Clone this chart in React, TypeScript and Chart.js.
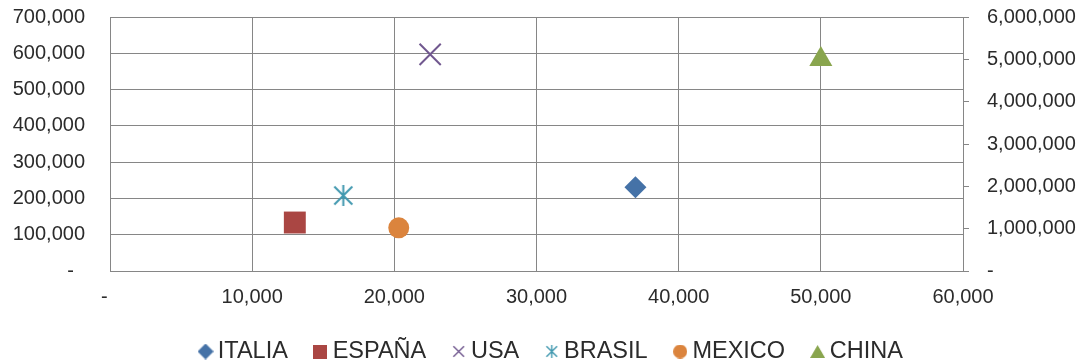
import React, { useEffect, useRef } from 'react';
import { Chart, registerables } from 'chart.js';

Chart.register(...registerables);

// ---- data ----
const countries = ['ITALIA', 'ESPAÑA', 'USA', 'BRASIL', 'MEXICO', 'CHINA'];
const xValues = [36960, 13000, 22520, 16410, 20310, 50000];
const yValues = [230600, 133600, 597000, 208000, 119000, 5000000];
const axisOf = ['y', 'y', 'y', 'y', 'y', 'y2'];

const xTickLabels = ['-  ', '10,000', '20,000', '30,000', '40,000', '50,000', '60,000'];
const yTickLabels = ['-  ', '100,000', '200,000', '300,000', '400,000', '500,000', '600,000', '700,000'];
const y2TickLabels = ['-', '1,000,000', '2,000,000', '3,000,000', '4,000,000', '5,000,000', '6,000,000'];

// ---- styles ----
const colors = ['#4572A7', '#AA4643', '#71588F', '#4198AF', '#DB843D', '#89A54E'];
const markerKinds = ['diamond', 'square', 'x', 'asterisk', 'circle', 'triangle'];
const legendSizes = [16, 14, 13, 13, 14, 15];
const GRID = '#868686';
const TEXT = '#2b2b2b';
const FONT = '"Liberation Sans", Arial, sans-serif';

function makeMarker(kind: string, size: number, color: string, lw: number): HTMLCanvasElement {
  const c = document.createElement('canvas');
  c.width = size;
  c.height = size;
  const g = c.getContext('2d') as CanvasRenderingContext2D;
  const m = size / 2;
  g.fillStyle = color;
  g.strokeStyle = color;
  g.lineWidth = lw;
  const p = lw / 2 + 0.5;
  switch (kind) {
    case 'diamond':
      g.beginPath();
      g.moveTo(m, 0);
      g.lineTo(size, m);
      g.lineTo(m, size);
      g.lineTo(0, m);
      g.closePath();
      g.fill();
      break;
    case 'square':
      g.fillRect(0, 0, size, size);
      break;
    case 'x':
      g.beginPath();
      g.moveTo(p, p);
      g.lineTo(size - p, size - p);
      g.moveTo(size - p, p);
      g.lineTo(p, size - p);
      g.stroke();
      break;
    case 'asterisk':
      g.beginPath();
      g.moveTo(p, p);
      g.lineTo(size - p, size - p);
      g.moveTo(size - p, p);
      g.lineTo(p, size - p);
      g.moveTo(m, 0);
      g.lineTo(m, size);
      g.stroke();
      break;
    case 'circle':
      g.beginPath();
      g.arc(m, m, m, 0, Math.PI * 2);
      g.fill();
      break;
    case 'triangle': {
      const h = size * 0.87;
      const top = (size - h) / 2;
      g.beginPath();
      g.moveTo(m, top);
      g.lineTo(size, top + h);
      g.lineTo(0, top + h);
      g.closePath();
      g.fill();
      break;
    }
  }
  return c;
}

const noPad = (s: any) => {
  s.paddingTop = 0;
  s.paddingBottom = 0;
  s.paddingLeft = 0;
  s.paddingRight = 0;
};

export default function App() {
  const ref = useRef<HTMLCanvasElement | null>(null);

  useEffect(() => {
    document.body.style.margin = '0';
    const canvas = ref.current;
    if (!canvas) return;

    const asteriskImg = makeMarker('asterisk', 21, colors[3], 2);
    const legendMarkers = markerKinds.map((k, i) =>
      makeMarker(k, legendSizes[i], colors[i], k === 'x' || k === 'asterisk' ? 1.4 : 1)
    );

    const pointStyles: any[] = ['rectRot', 'rect', 'crossRot', asteriskImg, 'circle', 'triangle'];
    const radii = [11, 15.5, 15, 10, 10.5, 13.3];

    const datasets = countries.map((name, i) => ({
      label: name,
      data: [{ x: xValues[i], y: yValues[i] }],
      yAxisID: axisOf[i],
      backgroundColor: colors[i],
      borderColor: colors[i],
      pointStyle: pointStyles[i],
      pointRadius: radii[i],
      pointHoverRadius: radii[i],
      pointBorderWidth: markerKinds[i] === 'x' ? 2 : 0,
      showLine: false,
    }));

    const chart = new Chart(canvas, {
      type: 'scatter',
      data: { datasets },
      options: {
        animation: false,
        responsive: false,
        devicePixelRatio: 1,
        events: [],
        layout: { autoPadding: false, padding: { top: 17, left: 0, right: -20, bottom: 0 } },
        plugins: {
          tooltip: { enabled: false },
          legend: {
            position: 'bottom',
            maxHeight: 56.25,
            labels: {
              usePointStyle: true,
              boxWidth: 1,
              padding: 32,
              color: TEXT,
              font: { family: FONT, size: 23.5 },
              generateLabels: (ch: any) => {
                const items = (Chart.defaults.plugins.legend.labels as any).generateLabels(ch);
                return items.map((it: any, i: number) => ({ ...it, pointStyle: legendMarkers[i] }));
              },
            },
          },
        },
        scales: {
          x: {
            type: 'linear',
            position: 'bottom',
            min: 0,
            max: 60000,
            ticks: {
              stepSize: 10000,
              padding: 14,
              color: TEXT,
              font: { family: FONT, size: 20 },
              maxRotation: 0,
              callback: (_v: any, idx: number) => xTickLabels[idx],
            },
            grid: { color: GRID, lineWidth: 1, drawTicks: false },
            border: { display: true, color: GRID },
            afterFit: (s: any) => { s.height = 36.75; noPad(s); },
          },
          y: {
            type: 'linear',
            position: 'left',
            min: 0,
            max: 700000,
            ticks: {
              stepSize: 100000,
              padding: 25,
              color: TEXT,
              font: { family: FONT, size: 20 },
              callback: (_v: any, idx: number) => yTickLabels[idx],
            },
            grid: { color: GRID, lineWidth: 1, drawTicks: false },
            border: { display: true, color: GRID },
            afterFit: (s: any) => { s.width = 110; noPad(s); },
          },
          y2: {
            type: 'linear',
            position: 'right',
            min: 0,
            max: 6000000,
            ticks: {
              stepSize: 1000000,
              padding: 18,
              color: TEXT,
              font: { family: FONT, size: 20 },
              callback: (_v: any, idx: number) => y2TickLabels[idx],
            },
            grid: { drawOnChartArea: false, drawTicks: true, tickLength: 6, color: GRID, tickColor: GRID },
            border: { display: true, color: GRID },
            afterFit: (s: any) => { s.width = 145; noPad(s); },
          },
        },
      } as any,
    });

    return () => chart.destroy();
  }, []);

  return (
    <div style={{ width: 1088, height: 364 }}>
      <canvas ref={ref} width={1088} height={364} style={{ display: 'block' }} />
    </div>
  );
}
